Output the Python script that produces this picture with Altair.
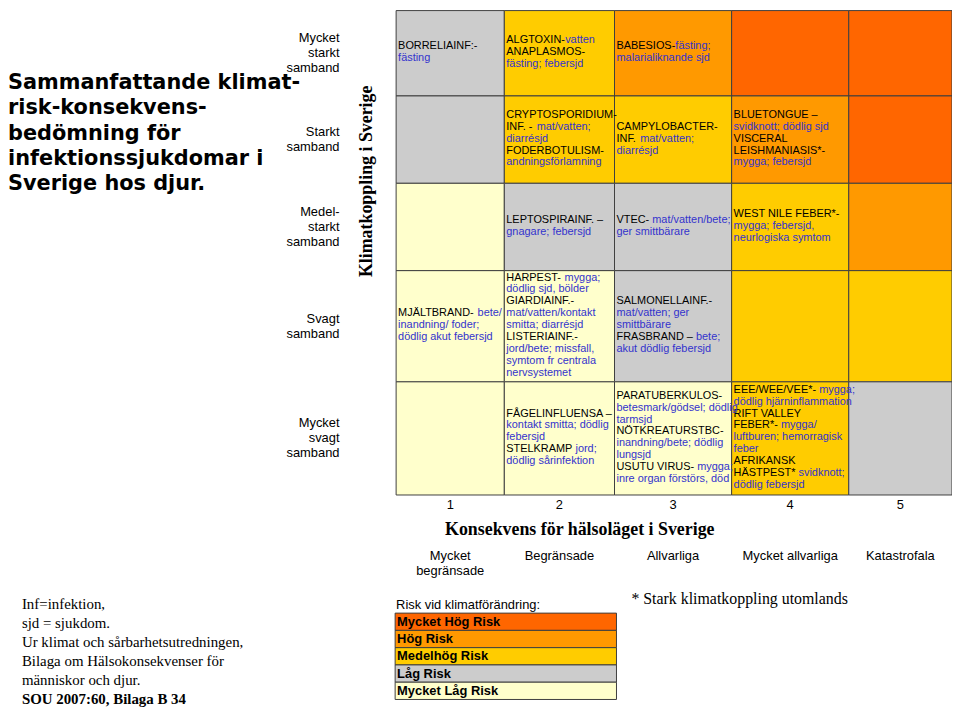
import altair as alt
import pandas as pd

# ---------------- data ----------------
CONSEQUENCE_LEVELS = [1, 2, 3, 4, 5]
CONSEQUENCE_NAMES = ["Mycket\nbegränsade", "Begränsade", "Allvarliga",
                     "Mycket allvarliga", "Katastrofala"]
CLIMATE_LEVELS = [5, 4, 3, 2, 1]
CLIMATE_NAMES = ["Mycket\nstarkt\nsamband", "Starkt\nsamband",
                 "Medel-\nstarkt\nsamband", "Svagt\nsamband",
                 "Mycket\nsvagt\nsamband"]
RISK_LEVELS = ["Mycket Hög Risk", "Hög Risk", "Medelhög Risk", "Låg Risk", "Mycket Låg Risk"]
RISK_COLORS = ["#FF6600", "#FF9900", "#FFCC00", "#CCCCCC", "#FFFFCC"]

# risk per cell: rows from climate level 5 (top) to 1, columns consequence 1..5
RISK_GRID = [
    ["Låg Risk", "Medelhög Risk", "Hög Risk", "Mycket Hög Risk", "Mycket Hög Risk"],
    ["Låg Risk", "Medelhög Risk", "Medelhög Risk", "Hög Risk", "Mycket Hög Risk"],
    ["Mycket Låg Risk", "Låg Risk", "Låg Risk", "Medelhög Risk", "Hög Risk"],
    ["Mycket Låg Risk", "Mycket Låg Risk", "Låg Risk", "Medelhög Risk", "Medelhög Risk"],
    ["Mycket Låg Risk", "Mycket Låg Risk", "Mycket Låg Risk", "Medelhög Risk", "Låg Risk"],
]

# cell texts: (consequence, climate level, lines); {...} = description (blue)
CELL_TEXTS = [
    (1, 5, ["BORRELIAINF:-", "{fästing}"]),
    (2, 5, ["ALGTOXIN-{vatten}", "ANAPLASMOS-", "{fästing; febersjd}"]),
    (3, 5, ["BABESIOS-{fästing;}", "{malarialiknande sjd}"]),
    (2, 4, ["CRYPTOSPORIDIUM-", "INF. - {mat/vatten;}", "{diarrésjd}",
            "FODERBOTULISM-", "{andningsförlamning}"]),
    (3, 4, ["CAMPYLOBACTER-", "INF. {mat/vatten;}", "{diarrésjd}"]),
    (4, 4, ["BLUETONGUE –", "{svidknott; dödlig sjd}", "VISCERAL",
            "LEISHMANIASIS*-", "{mygga; febersjd}"]),
    (2, 3, ["LEPTOSPIRAINF. –", "{gnagare; febersjd}"]),
    (3, 3, ["VTEC- {mat/vatten/bete;}", "{ger smittbärare}"]),
    (4, 3, ["WEST NILE FEBER*-", "{mygga; febersjd,}", "{neurlogiska symtom}"]),
    (1, 2, ["MJÄLTBRAND- {bete/}", "{inandning/ foder;}", "{dödlig akut febersjd}"]),
    (2, 2, ["HARPEST- {mygga;}", "{dödlig sjd, bölder}", "GIARDIAINF.-",
            "{mat/vatten/kontakt}", "{smitta; diarrésjd}", "LISTERIAINF.-",
            "{jord/bete; missfall,}", "{symtom fr centrala}", "{nervsystemet}"]),
    (3, 2, ["SALMONELLAINF.-", "{mat/vatten; ger}", "{smittbärare}",
            "FRASBRAND – {bete;}", "{akut dödlig febersjd}"]),
    (2, 1, ["FÅGELINFLUENSA –", "{kontakt smitta; dödlig}", "{febersjd}",
            "STELKRAMP {jord;}", "{dödlig sårinfektion}"]),
    (3, 1, ["PARATUBERKULOS-", "{betesmark/gödsel; dödlig}", "{tarmsjd}",
            "NÖTKREATURSTBC-", "{inandning/bete; dödlig}", "{lungsjd}",
            "USUTU VIRUS- {mygga;}", "{inre organ förstörs, död}"]),
    (4, 1, ["EEE/WEE/VEE*- {mygga;}", "{dödlig hjärninflammation}", "RIFT VALLEY",
            "FEBER*- {mygga/}", "{luftburen; hemorragisk}", "{feber}",
            "AFRIKANSK", "HÄSTPEST* {svidknott;}", "{dödlig febersjd}"]),
]

TITLE_LINES = ["Sammanfattande klimat-", "risk-konsekvens-", "bedömning för",
               "infektionssjukdomar i", "Sverige hos djur."]
NOTE_LINES = ["Inf=infektion,", "sjd = sjukdom.", "Ur klimat och sårbarhetsutredningen,",
              "Bilaga om Hälsokonsekvenser för", "människor och djur."]
SOURCE = "SOU 2007:60, Bilaga B 34"
X_TITLE = "Konsekvens för hälsoläget i Sverige"
Y_TITLE = "Klimatkoppling i Sverige"
LEGEND_TITLE = "Risk vid klimatförändring:"
STAR_NOTE = "* Stark klimatkoppling utomlands"

# ---------------- layout ----------------
PLOT_W, PLOT_H = 560, 488
COL_EDGES = [0, 109, 220, 338, 456, 560]          # px, left -> right
ROW_EDGES = [0, 86, 174, 262, 374, 488]           # px, top -> bottom
FS, LH, PADX = 11, 12, 2
SANS, SERIF = "Liberation Sans", "Liberation Serif"
BLUE = "#3333CC"
GRID_LINE = "#404040"

XS = alt.Scale(domain=[0.5, 1.5, 2.5, 3.5, 4.5, 5.5], range=COL_EDGES, zero=False, nice=False)
YS = alt.Scale(domain=[0.5, 1.5, 2.5, 3.5, 4.5, 5.5], range=ROW_EDGES[::-1], zero=False, nice=False)

ARIAL = {' ': 278, '!': 278, "'": 191, '(': 333, ')': 333, '*': 389, ',': 278, '-': 333,
         '.': 278, '/': 278, ':': 278, ';': 278, '–': 556, '=': 584}
ARIAL.update({c: 556 for c in "0123456789"})
ARIAL.update(dict(zip("ABCDEFGHIJKLMNOPQRSTUVWXYZÅÄÖ",
                      [667, 667, 722, 722, 667, 611, 778, 722, 278, 500, 667, 556, 833, 722,
                       778, 667, 778, 722, 667, 611, 722, 667, 944, 667, 667, 611, 667, 667, 778])))
ARIAL.update(dict(zip("abcdefghijklmnopqrstuvwxyzåäöé",
                      [556, 556, 500, 556, 556, 278, 556, 556, 222, 222, 500, 222, 833, 556,
                       556, 556, 556, 333, 500, 278, 556, 500, 722, 500, 500, 500, 556, 556, 556, 556])))


def text_w(s, size=FS):
    return sum(ARIAL.get(ch, 556) for ch in s) * size / 1000.0


def inv(px, edges, dom):
    for i in range(len(edges) - 1):
        if px <= edges[i + 1] or i == len(edges) - 2:
            t = (px - edges[i]) / (edges[i + 1] - edges[i])
            return dom[i] + t * (dom[i + 1] - dom[i])


XDOM = [0.5, 1.5, 2.5, 3.5, 4.5, 5.5]
YDOM = [5.5, 4.5, 3.5, 2.5, 1.5, 0.5]


def parse(line):
    segs, cur, kind = [], "", "name"
    for ch in line:
        if ch == "{":
            if cur:
                segs.append((cur, kind))
            cur, kind = "", "desc"
        elif ch == "}":
            if cur:
                segs.append((cur, kind))
            cur, kind = "", "name"
        else:
            cur += ch
    if cur:
        segs.append((cur, kind))
    return segs


# cells
cell_rows = []
for i, lvl in enumerate(CLIMATE_LEVELS):
    for j, c in enumerate(CONSEQUENCE_LEVELS):
        cell_rows.append(dict(x0=c - 0.5, x1=c + 0.5, y0=lvl - 0.5, y1=lvl + 0.5,
                              risk=RISK_GRID[i][j]))
cells = pd.DataFrame(cell_rows)

# text segments
seg_rows = []
for c, lvl, lines in CELL_TEXTS:
    ri = CLIMATE_LEVELS.index(lvl)
    top, bot = ROW_EDGES[ri], ROW_EDGES[ri + 1]
    start = top + (bot - top - len(lines) * LH) / 2.0 - 1
    for k, line in enumerate(lines):
        ypx = start + (k + 0.5) * LH
        off = 0.0
        for s, kind in parse(line):
            xpx = COL_EDGES[c - 1] + PADX + off
            seg_rows.append(dict(xu=inv(xpx, COL_EDGES, XDOM), yu=inv(ypx, ROW_EDGES, YDOM),
                                 text=s, kind=kind))
            off += text_w(s)
segs = pd.DataFrame(seg_rows)

layers = []
layers.append(
    alt.Chart(cells).mark_rect(stroke=GRID_LINE, strokeWidth=1).encode(
        x=alt.X("x0:Q", scale=XS, axis=None), x2="x1:Q",
        y=alt.Y("y0:Q", scale=YS, axis=None), y2="y1:Q",
        color=alt.Color("risk:N", scale=alt.Scale(domain=RISK_LEVELS, range=RISK_COLORS), legend=None),
    )
)
for kind, col in [("name", "#000000"), ("desc", BLUE)]:
    layers.append(
        alt.Chart(segs[segs.kind == kind]).mark_text(
            align="left", baseline="middle", font=SANS, fontSize=FS, color=col
        ).encode(
            x=alt.X("xu:Q", scale=XS, axis=None),
            y=alt.Y("yu:Q", scale=YS, axis=None),
            text="text:N",
        )
    )

# row labels (climate link), block centred on the row
RL_LH = 15
rowlab = pd.DataFrame({"level": CLIMATE_LEVELS, "label": CLIMATE_NAMES})
rowlab["n"] = rowlab["label"].str.count("\n") + 1
for n in sorted(rowlab["n"].unique()):
    layers.append(
        alt.Chart(rowlab[rowlab.n == n]).mark_text(
            align="right", baseline="middle", font=SANS, fontSize=13, lineHeight=RL_LH,
            lineBreak="\n", color="#000000", dy=-(n - 1) * RL_LH / 2.0).encode(
            x=alt.value(-57), y=alt.Y("level:Q", scale=YS, axis=None), text="label:N")
    )

# column labels (consequence)
collab = pd.DataFrame({"level": CONSEQUENCE_LEVELS, "num": [str(v) for v in CONSEQUENCE_LEVELS],
                       "name": CONSEQUENCE_NAMES})
layers.append(
    alt.Chart(collab).mark_text(align="center", baseline="middle", font=SANS, fontSize=13,
                                color="#000000").encode(
        x=alt.X("level:Q", scale=XS, axis=None), y=alt.value(498), text="num:N")
)
layers.append(
    alt.Chart(collab).mark_text(align="center", baseline="top", font=SANS, fontSize=13,
                                lineHeight=16, lineBreak="\n", color="#000000").encode(
        x=alt.X("level:Q", scale=XS, axis=None), y=alt.value(543), text="name:N")
)


def note(text, x, y, **kw):
    return alt.Chart(pd.DataFrame({"t": [text]})).mark_text(lineBreak="\n", **kw).encode(
        x=alt.value(x), y=alt.value(y), text="t:N")


layers.append(note(X_TITLE, 185, 523, align="center", baseline="middle", font=SERIF,
                   fontSize=18, fontWeight="bold", color="#000000"))
layers.append(note(Y_TITLE, -29, 172, align="center", baseline="middle", font=SERIF,
                   fontSize=18, fontWeight="bold", angle=270, color="#000000"))
layers.append(note("\n".join(TITLE_LINES), -391, 73, align="left", baseline="middle",
                   font="DejaVu Sans", fontSize=21, fontWeight="bold", lineHeight=25.5,
                   color="#000000"))
NOTE_LH = 19.2
layers.append(note("\n".join(NOTE_LINES), -377, 598, align="left", baseline="middle",
                   font=SERIF, fontSize=15, lineHeight=NOTE_LH, color="#000000"))
layers.append(note(SOURCE, -377, 598 + 5 * NOTE_LH, align="left", baseline="middle", font=SERIF,
                   fontSize=15, fontWeight="bold", color="#000000"))
layers.append(note(STAR_NOTE, 237, 593, align="left", baseline="middle", font=SERIF,
                   fontSize=16, color="#000000"))
layers.append(note(LEGEND_TITLE, 0, 599, align="left", baseline="middle", font=SANS,
                   fontSize=13, color="#000000"))

LEG_TOP, LEG_H, LEG_X0, LEG_X1 = 607, 17.4, -1, 222
for i, (lab, colr) in enumerate(zip(RISK_LEVELS, RISK_COLORS)):
    d = pd.DataFrame({"t": [lab]})
    layers.append(
        alt.Chart(d).mark_rect(fill=colr, stroke=GRID_LINE, strokeWidth=1).encode(
            x=alt.value(LEG_X0), x2=alt.value(LEG_X1),
            y=alt.value(LEG_TOP + i * LEG_H), y2=alt.value(LEG_TOP + (i + 1) * LEG_H))
    )
    layers.append(
        alt.Chart(d).mark_text(align="left", baseline="middle", font=SANS, fontSize=13,
                               fontWeight="bold", color="#000000").encode(
            x=alt.value(1), y=alt.value(LEG_TOP + (i + 0.5) * LEG_H), text="t:N")
    )

chart = alt.layer(*layers).properties(
    width=PLOT_W, height=PLOT_H,
    autosize=alt.AutoSizeParams(type="none"),
    padding={"left": 391, "top": 0, "right": 0, "bottom": 214},
    background="white",
).configure_view(strokeWidth=0)

chart.save("out.html", embed_options={"renderer": "svg", "actions": False})
